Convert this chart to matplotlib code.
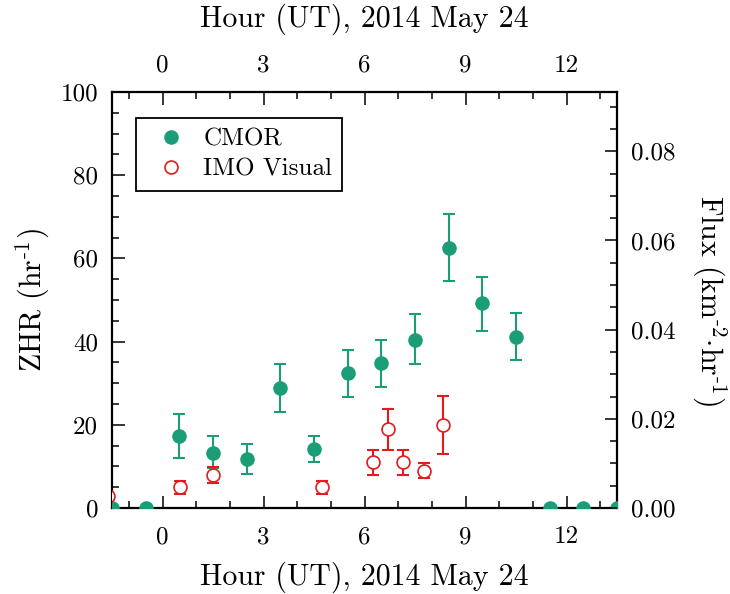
import matplotlib
matplotlib.use("Agg")
import matplotlib.pyplot as plt
import numpy as np
from matplotlib.ticker import MultipleLocator, FormatStrFormatter
from matplotlib.lines import Line2D

plt.rcParams['font.family'] = 'serif'
plt.rcParams['font.serif'] = ['cmr10']
plt.rcParams['mathtext.fontset'] = 'cm'
plt.rcParams['axes.unicode_minus'] = False
plt.rcParams['axes.formatter.use_mathtext'] = False

# CMOR data
cmor_hour = [-1.5, -0.5, 0.5, 1.5, 2.5, 3.5, 4.5, 5.5, 6.5, 7.5, 8.5, 9.5, 10.5, 11.5, 12.5, 13.5]
cmor_zhr = [0, 0, 17.3, 13.3, 11.8, 28.8, 14.2, 32.5, 34.9, 40.5, 62.6, 49.2, 41.2, 0, 0, 0]
cmor_lo = [0, 0, 5.4, 3.8, 3.6, 5.7, 3.1, 5.7, 5.7, 6.0, 8.0, 6.7, 5.6, 0, 0, 0]
cmor_hi = [0, 0, 5.3, 4.1, 3.5, 5.7, 3.2, 5.4, 5.6, 6.1, 8.0, 6.4, 5.6, 0, 0, 0]

# IMO Visual data
imo_hour = [-1.62, 0.53, 1.5, 4.75, 6.25, 6.69, 7.13, 7.77, 8.32]
imo_zhr = [2.8, 5.0, 7.9, 5.0, 11.0, 18.9, 11.0, 9.0, 19.9]
imo_lo = [0.0, 1.6, 2.0, 1.6, 3.0, 4.9, 3.0, 1.8, 6.9]
imo_hi = [0.0, 1.6, 1.9, 1.6, 3.0, 5.0, 3.0, 1.9, 7.0]

flux_per_zhr = 0.000933
x_range = (-1.5, 13.5)
zhr_range = (0, 100)

green = '#1b9e77'
red = '#e41a1c'

fig = plt.figure(figsize=(7.3, 5.94), dpi=100)
rect = [112/730, 1-508/594, 505/730, 416/594]
ax = fig.add_axes(rect)

ax.errorbar(cmor_hour, cmor_zhr, yerr=[cmor_lo, cmor_hi], fmt='none', ecolor=green,
            elinewidth=1.5, capsize=4, capthick=1.5, zorder=2)
ax.plot(cmor_hour, cmor_zhr, 'o', color=green, markersize=10.5,
        markeredgewidth=0, zorder=3)
ax.errorbar(imo_hour, imo_zhr, yerr=[imo_lo, imo_hi], fmt='none', ecolor=red,
            elinewidth=1.5, capsize=4, capthick=1.5, zorder=4)
ax.plot(imo_hour, imo_zhr, 'o', markerfacecolor='white', markeredgecolor=red,
        markersize=9.3, markeredgewidth=1.2, zorder=5)

ax.set_xlim(*x_range)
ax.set_ylim(*zhr_range)
ax.xaxis.set_major_locator(MultipleLocator(3))
ax.xaxis.set_minor_locator(MultipleLocator(1))
ax.yaxis.set_major_locator(MultipleLocator(20))
ax.yaxis.set_minor_locator(MultipleLocator(5))

for s in ax.spines.values():
    s.set_linewidth(1.6)

tick_fs = 18
lab_fs = 21.5

ax.tick_params(which='both', direction='in', width=1.1, top=False, right=False)
ax.tick_params(which='major', length=9, labelsize=tick_fs)
ax.tick_params(which='minor', length=5)
ax.tick_params(axis='x', which='major', pad=13)
ax.tick_params(axis='y', which='major', pad=10)

ax.set_xlabel('Hour (UT), 2014 May 24', fontsize=lab_fs, labelpad=10)
ax.set_ylabel(r'ZHR (hr$^{\text{-1}}$)', fontsize=lab_fs, labelpad=6)

# top axis (twin)
axt = ax.twiny()
axt.set_xlim(*x_range)
axt.xaxis.set_major_locator(MultipleLocator(3))
axt.xaxis.set_minor_locator(MultipleLocator(1))
axt.tick_params(which='both', direction='in', width=1.1)
axt.tick_params(which='major', length=9, labelsize=tick_fs, pad=11)
axt.tick_params(which='minor', length=5)
axt.tick_params(axis='y', which='both', left=False, right=False,
                labelleft=False, labelright=False)
axt.set_xlabel('Hour (UT), 2014 May 24', fontsize=lab_fs, labelpad=20)
for s in axt.spines.values():
    s.set_visible(False)

# right axis (twin)
axr = ax.twinx()
axr.set_ylim(zhr_range[0] * flux_per_zhr, zhr_range[1] * flux_per_zhr)
axr.yaxis.set_major_locator(MultipleLocator(0.02))
axr.yaxis.set_minor_locator(MultipleLocator(0.005))
axr.yaxis.set_major_formatter(FormatStrFormatter('%.2f'))
axr.tick_params(which='both', direction='in', width=1.1)
axr.tick_params(which='major', length=9, labelsize=tick_fs, pad=10)
axr.tick_params(which='minor', length=5)
axr.set_ylabel(r'Flux (km$^{\text{-2}}$$\cdot$hr$^{\text{-1}}$)', fontsize=lab_fs,
               rotation=270, labelpad=38)
for s in axr.spines.values():
    s.set_visible(False)

handles = [
    Line2D([], [], linestyle='none', marker='o', color=green, markersize=10.5,
           markeredgewidth=0),
    Line2D([], [], linestyle='none', marker='o', markerfacecolor='white',
           markeredgecolor=red, markersize=9.3, markeredgewidth=1.2),
]
leg = axr.legend(handles, ['CMOR', 'IMO Visual'], loc='upper left',
                 bbox_to_anchor=(0.0475, 0.9375), borderaxespad=0,
                 fontsize=tick_fs, frameon=True, fancybox=False, framealpha=1,
                 edgecolor='black', handletextpad=0.3, borderpad=0.4,
                 labelspacing=0.3, handlelength=2.0)
leg.get_frame().set_linewidth(1.3)

fig.savefig('out.png', dpi=100)
